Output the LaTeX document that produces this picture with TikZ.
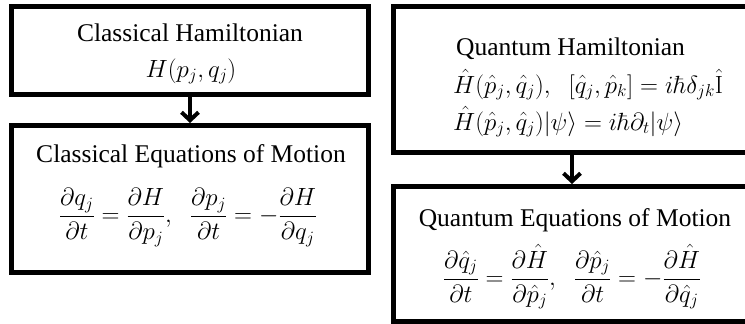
\documentclass[tikz,border=0pt]{standalone}
\usepackage[no-math]{fontspec}
\setmainfont{Liberation Serif}
\usetikzlibrary{arrows.meta}
\begin{document}
\begin{tikzpicture}[x=1pt,y=-1pt,
  box/.style={draw=black,line width=5pt,rectangle,inner sep=0pt},
  arr/.style={line width=4pt,-{Straight Barb[length=8pt,width=17pt,line width=4pt]}},
  txt/.style={inner sep=0pt,anchor=base,font=\fontsize{25.5}{30}\selectfont},
  mth/.style={inner sep=0pt,anchor=base,font=\fontsize{24}{30}\selectfont},
  mthl/.style={mth,anchor=base west},
  txtl/.style={txt,anchor=base west}]
\useasboundingbox (0,0) rectangle (745,324);
\clip (0,0) rectangle (745,324);
% boxes
\node[box,minimum width=357pt,minimum height=88pt] (ch) at (190,50.5) {};
\node[box,minimum width=357pt,minimum height=147pt] (ce) at (190,199) {};
\node[box,minimum width=376.5pt,minimum height=146pt] (qh) at (581.75,79.5) {};
\node[box,minimum width=376.5pt,minimum height=134.5pt] (qe) at (581.75,253.75) {};
% arrows
\coordinate (lx) at (190,0);
\coordinate (rx) at (572,0);
\draw[arr] (lx |- ch.south) -- (lx |- ce.north);
\draw[arr] (rx |- qh.south) -- (rx |- qe.north);
% classical texts
\node[txt] (cht) at (190,41.5) {Classical Hamiltonian};
\node[mth] (chm) at (191,77) {$H(p_j,q_j)$};
\node[txt] (cet) at (191,162) {Classical Equations of Motion};
\node[mth] (cem) at (188,222.5) {$\displaystyle \frac{\partial q_j}{\partial t}=\frac{\partial H}{\partial p_j},\;\;\frac{\partial p_j}{\partial t}=-\frac{\partial H}{\partial q_j}$};
% quantum texts
\node[txtl] (qht) at (456,56) {Quantum Hamiltonian};
\node[mthl] (qhm1) at (453,93) {$\hat H(\hat p_j,\hat q_j),\;\;[\hat q_j,\hat p_k]=i\hbar\delta_{jk}\hat{\mathrm{I}}$};
\node[mthl] (qhm2) at (453,130) {$\hat H(\hat p_j,\hat q_j)|\psi\rangle=i\hbar\partial_t|\psi\rangle$};
\node[txt] (qet) at (575,226.5) {Quantum Equations of Motion};
\node[mth] (qem) at (572,285) {$\displaystyle \frac{\partial \hat q_j}{\partial t}=\frac{\partial \hat H}{\partial \hat p_j},\;\;\frac{\partial \hat p_j}{\partial t}=-\frac{\partial \hat H}{\partial \hat q_j}$};
\end{tikzpicture}
\end{document}
